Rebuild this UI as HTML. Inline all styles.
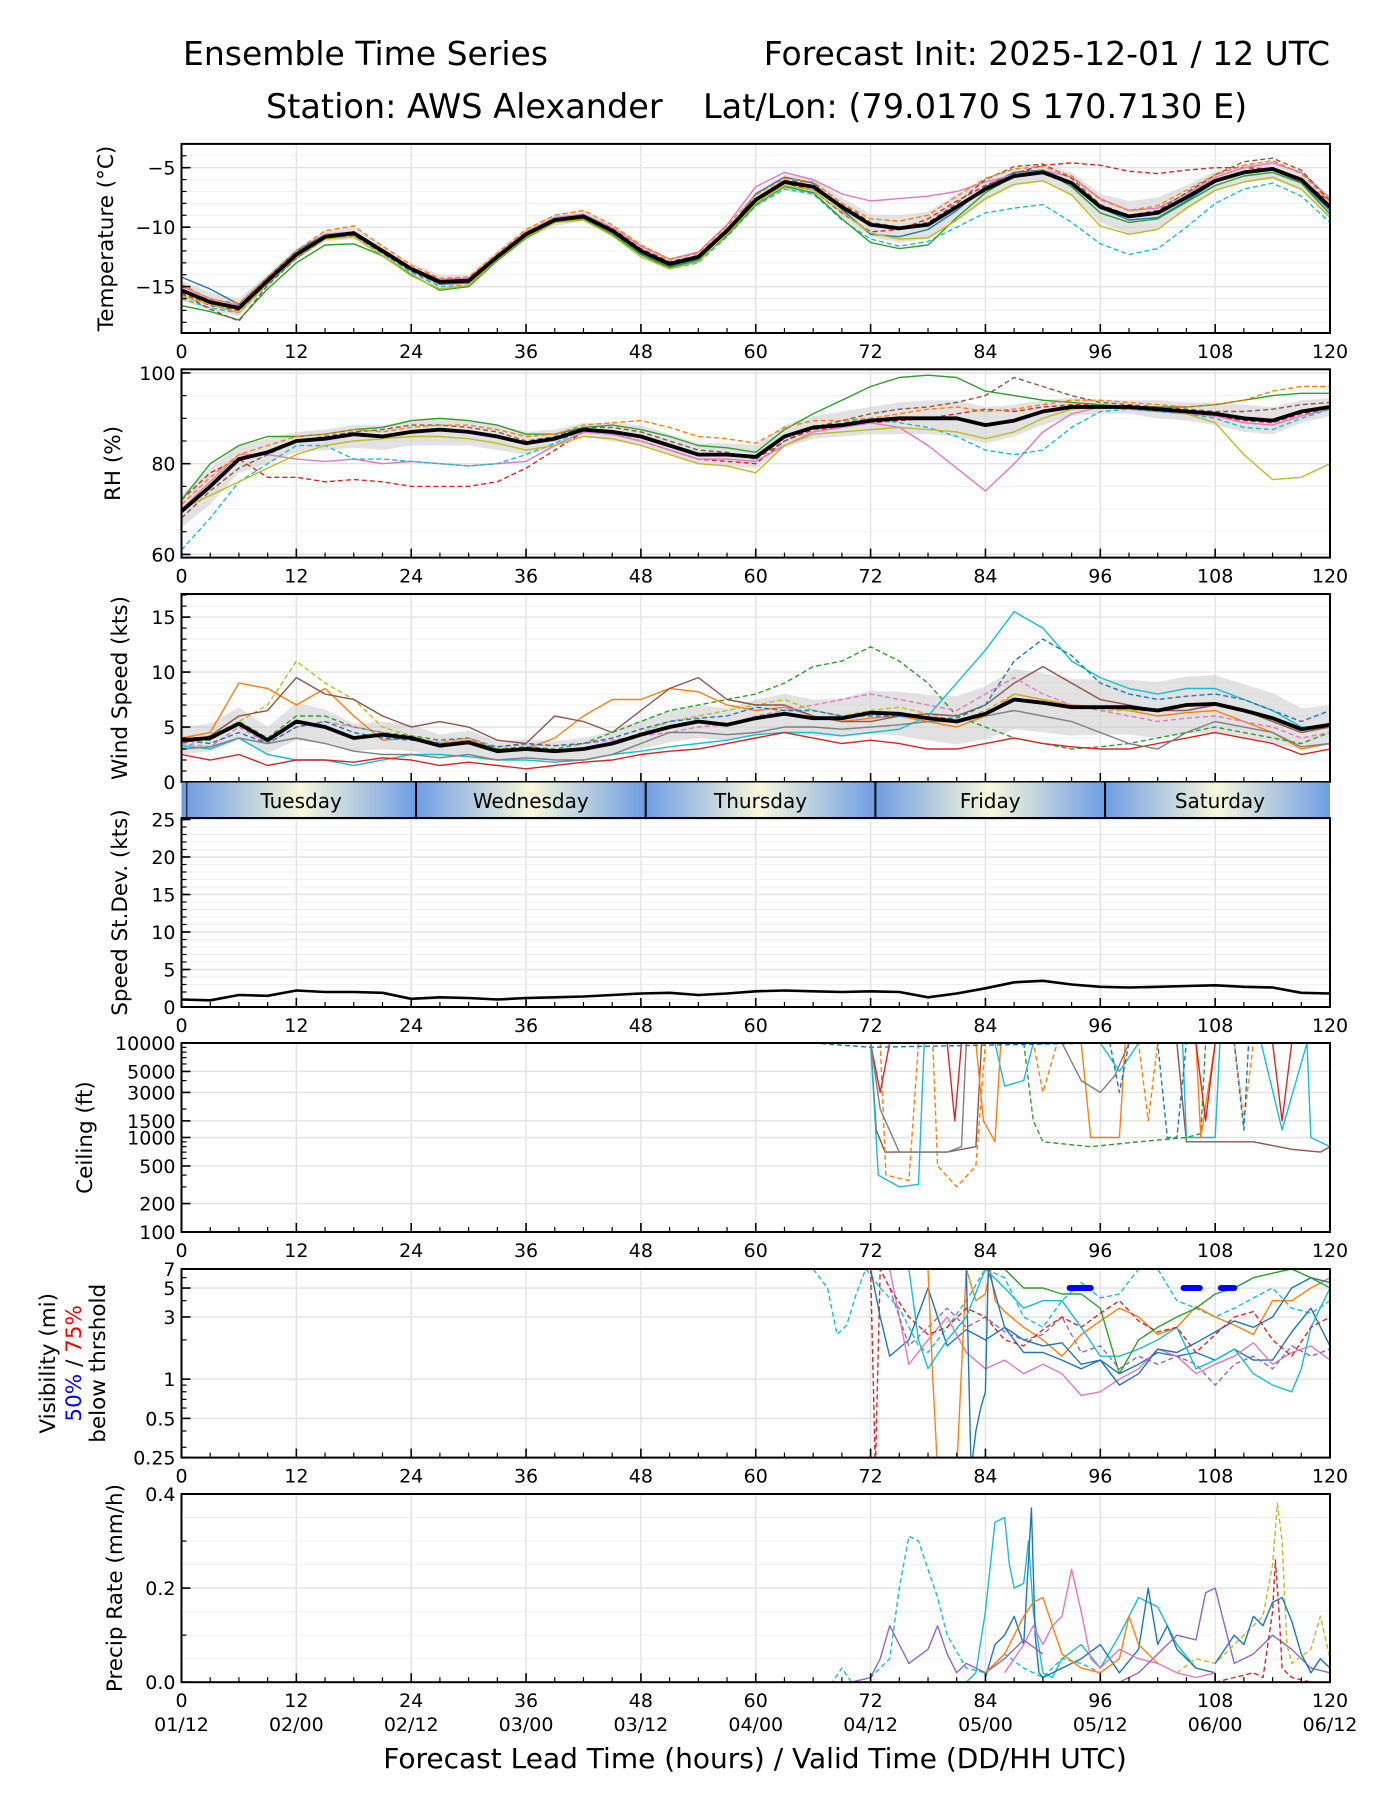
<!DOCTYPE html>
<html><head><meta charset="utf-8">
<style>
html,body{margin:0;padding:0;background:#fff;}
svg{display:block;font-family:"DejaVu Sans","Liberation Sans",sans-serif;}
</style></head>
<body>
<svg id="chart" width="1400" height="1800" viewBox="0 0 1400 1800" xmlns="http://www.w3.org/2000/svg">
<defs>
<linearGradient id="dayGrad" x1="0" x2="1" y1="0" y2="0">
<stop offset="0" stop-color="#6f9de3"/><stop offset="0.5" stop-color="#f8f8dc"/><stop offset="1" stop-color="#6f9de3"/>
</linearGradient>
</defs>
<text x="183" y="65" font-size="33">Ensemble Time Series</text>
<text x="1330" y="65" font-size="33" text-anchor="end">Forecast Init: 2025-12-01 / 12 UTC</text>
<text x="266" y="118" font-size="33.5">Station: AWS Alexander</text>
<text x="703" y="118" font-size="33.5">Lat/Lon: (79.0170 S 170.7130 E)</text>
<text x="755" y="1768" font-size="28" text-anchor="middle">Forecast Lead Time (hours) / Valid Time (DD/HH UTC)</text>
</svg>
<script>
// ---------- data ----------
const xTicks = [0,12,24,36,48,60,72,84,96,108,120];
const dateLabels = ['01/12','02/00','02/12','03/00','03/12','04/00','04/12','05/00','05/12','06/00','06/12'];
const dayNames = ['Tuesday','Wednesday','Thursday','Friday','Saturday'];
const dayStarts = [0.5,24.5,48.5,72.5,96.5];

const tMean = [-15.3,-16.3,-16.8,-14.5,-12.3,-10.8,-10.5,-12,-13.5,-14.6,-14.5,-12.5,-10.6,-9.4,-9.1,-10.3,-12,-13.1,-12.5,-10.3,-7.7,-6.2,-6.6,-8.3,-9.8,-10.1,-9.8,-8.3,-6.8,-5.7,-5.4,-6.3,-8.3,-9.1,-8.8,-7.5,-6.1,-5.4,-5.1,-6,-8.3];
const tLo = [-16.2,-17,-17.5,-15,-12.7,-11.2,-11,-12.6,-14,-15.2,-15.1,-13,-11.1,-9.9,-9.5,-10.8,-12.5,-13.6,-13,-10.9,-8.4,-6.9,-7.4,-9.2,-10.8,-11.3,-11,-9.5,-7.8,-6.5,-6.2,-7.3,-9.6,-10.6,-10.2,-8.6,-7,-6.2,-6,-6.9,-9.3];
const tHi = [-14.5,-15.5,-16,-14,-11.8,-10.3,-10,-11.5,-13,-14,-14,-12,-10.1,-8.9,-8.6,-9.8,-11.4,-12.6,-12,-9.7,-7,-5.6,-5.9,-7.5,-8.9,-9,-8.7,-7.2,-5.9,-5,-4.7,-5.4,-7.2,-7.8,-7.5,-6.5,-5.3,-4.7,-4.4,-5.2,-7.4];
const tM1 = [-14.2,-15.2,-16.5,-14.2,-12,-10.6,-10.4,-12,-13.6,-14.8,-14.7,-12.6,-10.4,-9.2,-9,-10.2,-12.2,-13.3,-12.7,-10.4,-7.2,-5.8,-6.3,-8.5,-10.6,-10.8,-10.2,-8.6,-6.6,-5.4,-5.2,-6.2,-8.4,-9.4,-9.2,-7.8,-6.2,-5.5,-5.2,-6.2,-8.6];
const tM2 = [-15.5,-16.6,-17,-14.6,-12.4,-10.9,-10.6,-12.1,-13.4,-14.5,-14.4,-12.4,-10.5,-9.3,-9,-10.1,-11.8,-12.9,-12.4,-10.2,-7.6,-6.3,-6.9,-8.8,-10.4,-10.2,-9.3,-7.8,-6.5,-5.5,-4.8,-4.6,-4.8,-5.3,-5.5,-5.2,-5,-5,-5.1,-6.2,-7.8];
const tM3 = [-15,-16,-16.6,-14.3,-12.2,-10.6,-10.4,-11.9,-13.4,-14.4,-14.3,-12.3,-10.4,-9.2,-8.9,-10,-11.6,-12.7,-12.1,-9.8,-6.6,-5.4,-6,-7.2,-7.8,-7.6,-7.4,-7,-6.2,-5.6,-5.2,-5.8,-7.6,-8.6,-8.4,-7.2,-5.8,-5,-4.6,-5.4,-7.6];
const tM4 = [-16,-16.8,-17.2,-14.8,-12.6,-11,-10.6,-12.2,-13.8,-15,-14.9,-12.8,-10.8,-9.5,-9.2,-10.5,-12.3,-13.5,-13,-10.8,-8.2,-6.8,-7.2,-9.4,-11,-11.6,-11.2,-10,-8.8,-8.4,-8.1,-9.6,-11.4,-12.3,-11.8,-10,-8,-6.8,-6.3,-7.4,-9.6];
const tM5 = [-16.6,-17.1,-17.8,-15.2,-13,-11.5,-11.4,-12.4,-14,-15.3,-15,-12.8,-10.9,-9.6,-9.3,-10.6,-12.3,-13.4,-12.8,-10.7,-8.1,-6.6,-7.1,-9.3,-11.3,-11.8,-11.5,-9.2,-7.1,-5.7,-5.2,-6.6,-8.8,-9.6,-9.3,-7.9,-6.5,-5.7,-5.4,-6.3,-8.9];
const tM6 = [-15.6,-16.9,-17.9,-14.9,-12.6,-11,-10.7,-12.2,-13.7,-14.8,-14.7,-12.7,-10.7,-9.5,-9.2,-10.4,-12.1,-13.2,-12.6,-10.4,-7.8,-6.1,-6.2,-8,-9.6,-10,-9.6,-8,-6,-4.9,-4.7,-5.9,-8.1,-9,-8.6,-7.1,-5.6,-4.5,-4.2,-5.2,-7.8];
const tM7 = [-15.8,-16.5,-17.2,-14.7,-12.5,-11,-10.8,-12.4,-14.1,-15.2,-14.9,-12.7,-10.8,-9.6,-9.4,-10.7,-12.5,-13.5,-12.9,-10.6,-8,-6.5,-6.9,-8.7,-10.5,-11,-10.9,-9.4,-7.6,-6.4,-6.1,-7.3,-9.9,-10.6,-10.2,-8.4,-6.9,-6.2,-5.8,-6.8,-9.2];
const tM8 = [-14.8,-16.1,-16.4,-14.2,-12,-10.3,-9.9,-11.6,-13.2,-14.3,-14.2,-12.2,-10.2,-9,-8.6,-9.8,-11.5,-12.7,-12.2,-9.9,-7.3,-5.9,-6.2,-8,-9.3,-9.5,-9,-7.4,-5.9,-5.1,-4.9,-5.7,-7.7,-8.6,-8.2,-6.9,-5.6,-4.8,-4.4,-5.5,-7.9];
const tMembers = [tM1,tM2,tM3,tM4,tM5,tM6,tM7,tM8];

const rhMean = [69.5,75,81,82.5,85,85.5,86.5,86,87,87.5,87,86,84.5,85.5,87.5,87,86,84,82,82,81.5,86,88,88.5,89.5,90,90,90,88.5,89.5,91.5,92.5,92.5,92.5,92,91.5,91,90,89.5,91.5,92.5];
const rhLo = [66,71,78,80,82.5,83,83.5,83,84,84,84,83,82,83.5,86,85,84,82,80,79.5,79,83.5,85.5,86,86.5,86.5,86.5,86,84.5,86,88.5,90.5,91,91,90,89.5,88.5,87,86.5,89,90.5];
const rhHi = [73,79,84,85.5,87,87.5,88.5,88.5,89.5,90,89.5,88.5,87,87.5,89,89,88.5,86.5,84.5,84.5,84,88.5,90.5,91.5,92.5,93.5,94,94,92.5,93,94,94.5,94,94,94,93.5,93.5,93,92.5,94,94.5];
const rhM1 = [72,78,81,77,77,76,76.5,76,75,75,75,76,79,83,87,86.5,85,83,81,80.5,80,85,87.5,88,89,89.5,90,91,92,91.5,92.5,93,93,92.5,92,91.5,90.5,89.5,89,91,92];
const rhM2 = [70,76,82,82,81,80.5,81,80,80.5,80,79.5,80,80.5,84,87,86.5,85,83,81,81,80.5,84,87,88,89,88,84,79,74,80,87,91,92.5,92,91.5,91,90.5,89,88.5,90.5,92];
const rhM3 = [61,68,76,80,84,84,81,81,80.5,80,79.5,80,82,84.5,87.5,87,86,84,82,82,81,86,88,89,90,89,88,86,83,82,83,88,91.5,92,91.5,91,90,88,87.5,90,92];
const rhM4 = [72,80,84,86,86,86.5,87.5,88,89.5,90,89.5,88.5,86.5,86.5,88,88.5,87.5,86,84,83.5,82.5,87.5,91,94,97,99,99.5,99,96,95,94,93.5,93,92.5,92.5,92.5,93,94,95,95.5,95.5];
const rhM5 = [68,74,79,82,85,86,87,87.5,88.5,88.5,88,87,85,86,88,88,87,85,83,82.5,81,85,88,89.5,91,92,92.5,93.5,95,99,97,95,93.5,93,92.5,92,91.5,91.5,92,93,93.5];
const rhM6 = [70,73,76,79,82,84,85,85.5,86,86,85.5,84.5,83,84,86,85.5,84,82,80,79.5,78,84,86.5,87,87.5,88,87.5,87,85.5,87,90,92,92.5,92.5,92,91,89,82,76.5,77,80];
const rhM7 = [71,77,82,84,86,86.5,87.5,87,88,88.5,88.5,87.5,86,86.5,88.5,89,89.5,88,86,85.5,84.5,88,89.5,89.5,90,91,92,92.5,91.5,92,93,94,94,93.5,93,92.5,93,94,96,97,97];
const rhMembers = [rhM1,rhM2,rhM3,rhM4,rhM5,rhM6,rhM7];

const wMean = [3.8,4,5.3,3.8,5.5,5,4,4.3,4,3.3,3.6,2.8,3,2.8,3,3.5,4.3,5,5.5,5.2,5.8,6.2,5.8,5.8,6.3,6.2,5.8,5.5,6.2,7.5,7.2,6.8,6.8,6.8,6.5,7,7.1,6.5,5.8,4.8,5.2];
const wLo = [2.5,2.8,3.8,2.6,3.8,3.5,2.8,3,2.8,2.3,2.5,2,2.1,2,2.1,2.5,3,3.6,4,3.8,4.2,4.5,4.2,4.1,4.4,4.2,3.8,3.4,3.9,4.8,4.5,4.2,4.3,4.3,4,4.4,4.5,4.1,3.5,3,3.4];
const wHi = [5,5.3,6.8,5,7.2,6.6,5.3,5.5,5.2,4.3,4.7,3.7,3.9,3.7,4,4.6,5.6,6.5,7,6.7,7.5,8,7.5,7.6,8.3,8.2,7.9,7.8,8.7,10.3,9.9,9.4,9.3,9.3,9.1,9.6,9.7,8.9,8.1,6.7,7];
const wM1 = [4,4.5,9,8.5,7,8.5,6,3.8,4,3.5,3.8,3,3,4,6,7.5,7.5,8.5,8.2,7,6.5,6.8,6,5.5,5.8,6,5.5,5,6,8,7.5,7,6.8,6.5,6,6.3,6.5,5.5,4.5,3,3.5];
const wM2 = [3,4.2,5.5,7,11,9,7.5,5,4.2,3.5,3.7,2.8,3,2.8,3,3.5,4.5,5.5,6,6.5,7,7.5,6.5,6,6.5,6.8,6.2,5.5,6.5,8,7.5,7,6.5,6.5,6.5,7,7,6.5,5.5,4.5,5];
const wM3 = [3.5,4.2,6,6.5,9.5,8,7.5,6,5,5.5,5,3.8,3.5,6,5.5,4.5,6.5,8.5,9.5,7.5,7,7,6,5.5,5.5,6,6.2,6,7,9,10.5,9,7.5,7,6.5,6.5,7,6.5,5.5,4.5,5];
const wM4 = [3.8,3.8,5.5,4,6,6,5,4.5,4.2,3.8,4,3,3.2,3,3.5,4.5,5.5,6.5,7,7.5,8,9,10.5,11,12.3,11,9,6,5,4,3.5,3,3.2,3.5,4,4.5,5,4.5,4,3.5,4.5];
const wM5 = [3.3,3,4,2.5,2,2,1.5,2,2.5,2.5,2.3,2,2,1.8,2,2.5,2.8,3.2,3.5,3.8,4.3,4.5,4.5,4.2,4.5,4.8,6,9,12,15.5,14,11,9.5,8.5,8,8.5,8.5,7.5,6.5,5,5];
const wM6 = [3.5,3.2,5,3.5,5,5.5,5,4.5,4,3.6,4,3.2,3.4,3.3,3.5,3.8,4.2,4.5,5,5.2,6,6.5,7,7.5,8,7.5,7,6.5,8,9.5,8,7,6.5,6,5.5,5.8,6,5.5,5,4,4.5];
const wM7 = [2.5,2,2.5,1.5,2,2,1.8,2.2,2,1.5,1.8,1.5,1.2,1.5,1.8,2,2.5,2.8,3,3.5,4,4.5,4,3.5,3.8,3.5,3,3,3.5,4,3.5,3.2,3,3,3.5,4,4.5,4,3.5,2.5,3];
const wM8 = [3.8,3.5,4.5,3.5,5,5.5,4.5,4,3.8,3.5,3.5,3.2,3.5,3.3,3.5,4,4.8,5.5,5.8,6,6.8,6.5,6.5,6,6,6,5.8,5.8,7,11,13,11.5,9,8,7.5,7.8,8,7.5,6.5,5.5,6.5];
const wM9 = [3,3.2,4,3.5,4,3.5,2.8,2.5,2.5,2.2,2.5,2,2.2,2,2,2.5,3.5,4.5,4.5,4.3,4.5,5,5,4.8,5,5.2,5.5,5.5,6,6.5,6,5.5,4.5,3.5,3,4.5,5.5,5,4.5,3.2,3.5];
const wMembers = [wM1,wM2,wM3,wM4,wM5,wM6,wM7,wM8,wM9];

const sdMean = [1,0.9,1.6,1.5,2.2,2,2,1.9,1.1,1.3,1.2,1,1.2,1.3,1.4,1.6,1.8,1.9,1.6,1.8,2.1,2.2,2.1,2,2.1,2,1.3,1.8,2.5,3.3,3.5,3,2.7,2.6,2.7,2.8,2.9,2.7,2.6,1.9,1.8];

const ceilH1 = [72,72.6,73.5,80,83,83.6,96,104,105,112,116,119,120];
const ceilV1 = [10000,1200,700,700,800,10000,10000,10000,900,900,750,700,800];
const ceilH2 = [88,89,90,95,100,105,106.5,107,110,112];
const ceilV2 = [10000,1500,900,800,900,1000,1100,10000,10000,10000];
const ceilH3 = [72,72.8,75,77,77.6,85,86,88,89,96,98,100,104.6,105,108,108.5,112.8,115,117.6,118,120];
const ceilV3 = [10000,400,300,320,10000,10000,3500,4000,10000,10000,5000,10000,10000,1000,1000,10000,10000,1200,10000,1000,800];
const ceilH4 = [73,73.6,76,77,78.5,79,81,83,84,89,90,91.5,100,101,102,110,111,112];
const ceilV4 = [10000,400,350,10000,10000,500,300,500,10000,10000,3000,10000,10000,1500,10000,10000,1500,10000];
const ceilH5 = [83,83.8,85,85.6,94,95,98,98.6,106,106.5,108];
const ceilV5 = [10000,1500,900,10000,10000,1000,1000,10000,10000,1000,10000];
const ceilH6 = [72,73,74,80,80.8,81.5,106,107,108,114,115,116];
const ceilV6 = [10000,3000,10000,10000,1500,10000,10000,1500,10000,10000,1500,10000];
const ceilH7 = [66,72,96,97,98,99,102,103,104,105,110,111,111.5];
const ceilV7 = [10000,9000,10000,10000,3000,10000,10000,1000,1000,10000,10000,1200,10000];
const ceilH8 = [72,73,75,80,81.5,82,92,94,96,97.5,99];
const ceilV8 = [10000,2000,700,700,800,10000,10000,4000,3000,4500,10000];
const ceilMembers = [[ceilH1,ceilV1],[ceilH2,ceilV2],[ceilH3,ceilV3],[ceilH4,ceilV4],[ceilH5,ceilV5],[ceilH6,ceilV6],[ceilH7,ceilV7],[ceilH8,ceilV8]];

const visH1 = [66,67.5,68.5,69.5,70.5,71.5,73,75,77,78,80,82,84,86,88,90,92,94,96,98,100,102,104,106,108,110,112,114,116,118,120];
const visV1 = [7,5,2.2,2.6,4.5,7,5,3.5,1.8,1.6,2.5,4,7,6,3,2.5,4,5.5,4.2,4.5,7,7,4,3.5,3,3.5,4.2,5,3.5,3.2,4];
const visH2 = [72,73,74,76,78,80,82,84,86,88,90,92,94,96,98,100,102,104,106,108,110,112,114,116,118,120];
const visV2 = [7,3,1.5,2,5,1.8,2.4,2,2.5,1.6,1.6,1.4,1.2,1.4,1.1,1.3,1.6,1.5,1.6,1.4,1.7,1.4,1.4,2.3,3.5,1.8];
const visH3 = [74,75,76,78,80,82,84,86,88,90,92,94,96,98,100,102,104,106,108,110,112,114,116,118,120];
const visV3 = [7,3,1.3,2,3,1.6,1.2,1.4,1.1,1.3,1.1,0.75,0.8,1,1.2,1.7,1.5,1.1,1.3,1.5,1.9,1.3,1.6,1.8,1.4];
const visH4 = [74,75,76,78,80,82,84,86,88,90,92,94,96,98,100,102,104,106,108,110,112,114,116,118,120];
const visV4 = [5,3,1.8,2.5,3.5,2.5,3,2.3,2,2.2,3,1.6,1.8,1.2,1.5,1.3,1.5,1.3,0.9,1.3,1.5,1.2,1.8,1.5,1.7];
const visH5 = [78,78.5,79,80,81,82,83,84,84.5,85,86,88,90,92,94,96,98,100,102,104,106,108,110,112,114,116,118,120];
const visV5 = [7,1,0.2,0.2,0.2,7,4,4.5,7,4,3.3,2.5,2,1.5,2.2,2.8,3.5,3,2.2,2.5,3.6,3,2.6,2.2,4,4,5,6];
const visH6 = [82,82.5,83,83.5,84,84.3,86,88,90,92,94,96,98,100,102,104,106,108,110,112,114,116,118,120];
const visV6 = [7,0.2,0.4,0.6,0.8,7,2.5,2,1.8,1.9,1.3,1.4,0.9,1.1,1.7,1.6,1.9,2.3,2.8,2.5,3,5,6,5.5];
const visH7 = [76,77,78,80,82,84,86,88,90,92,94,96,98,100,102,104,106,108,110,112,114,116,117,118,120];
const visV7 = [7,2,1.2,2,3,7,5,3.5,4,4,2.5,1.5,1.5,1.7,2,2.5,1.2,1.4,1.7,1.1,0.9,0.8,1.2,2.5,5];
const visH8 = [86,88,90,92,94,96,98,100,102,104,106,108,110,112,114,116,118,120];
const visV8 = [7,5,5,4.5,4.5,3.5,1.1,2,2.5,3,3.5,4.5,5,6,6.5,7,6,5];
const visH9 = [72,72.5,73,74,76,78,80,82,84,86,88,90,92,94,96,98,100,102,104,106,108,110,112,114,116,118,120];
const visV9 = [7,0.2,7,5,3,2.2,2.5,3.5,3,2,1.8,2.4,3,2.5,3.2,4,2.8,2.3,2.5,1.6,2.2,3,3.3,2,1.5,2.5,3];
const visMembers = [[visH1,visV1],[visH2,visV2],[visH3,visV3],[visH4,visV4],[visH5,visV5],[visH6,visV6],[visH7,visV7],[visH8,visV8],[visH9,visV9]];
const vis50H = [[92.8,95],[104.7,106.4],[108.6,110]];
const vis50V = [5,5,5];

const prH1 = [66,68,69,70,72,74,75,76,77,78,79,80,82,84,86,88,90,92,94,96];
const prV1 = [0,0,0.03,0,0.01,0.05,0.2,0.31,0.3,0.24,0.18,0.1,0.03,0.02,0.06,0.03,0.01,0.05,0.04,0.02];
const prH2 = [82,83,84,85,86,86.5,87,88,88.5,89,90,91,92,94,96,98,100,102,104,106];
const prV2 = [0,0.02,0.15,0.34,0.35,0.25,0.2,0.21,0.3,0.15,0.02,0.01,0.05,0.08,0.03,0.1,0.18,0.16,0.08,0.03];
const prH3 = [84,85,86,87,88,88.8,89.2,89.6,90,92,94,96,98,100,101,102,103,104,106,108];
const prV3 = [0.01,0.08,0.1,0.14,0.08,0.37,0.1,0.02,0.01,0.03,0.05,0.08,0.02,0.07,0.2,0.08,0.12,0.07,0.03,0.02];
const prH4 = [86,88,89,90,91,92,93,94,95,96,98,100,102,104,106,108];
const prV4 = [0.02,0.08,0.12,0.08,0.12,0.14,0.24,0.15,0.05,0.03,0.07,0.05,0.04,0.02,0.01,0.02];
const prH5 = [70,72,73,74,75,76,78,79,80,81,82,84,86,88,90];
const prV5 = [0,0.01,0.05,0.12,0.08,0.04,0.07,0.12,0.06,0.02,0.04,0.02,0.05,0.09,0.06];
const prH6 = [98,100,102,104,106,106.5,107,108,109,110,112,114,116,118,120];
const prV6 = [0,0.02,0.06,0.1,0.09,0.14,0.19,0.2,0.12,0.04,0.06,0.1,0.07,0.03,0.02];
const prH7 = [104,106,108,110,112,113,114,114.5,115,115.5,116,118,119,120];
const prV7 = [0.02,0.05,0.04,0.08,0.12,0.14,0.25,0.38,0.3,0.08,0.04,0.07,0.14,0.05];
const prH8 = [108,110,112,113,114,114.3,114.7,115,116,118,120];
const prV8 = [0,0.01,0.02,0.01,0.15,0.26,0.14,0.03,0.01,0,0];
const prH9 = [84,86,87,88,89,90,91,92,94,96,98,99,100,102];
const prV9 = [0.02,0.06,0.1,0.14,0.17,0.18,0.12,0.06,0.03,0.02,0.05,0.14,0.08,0.04];
const prH10 = [108,110,111,112,113,114,115,116,117,118,119,120];
const prV10 = [0.04,0.1,0.08,0.14,0.12,0.17,0.18,0.13,0.06,0.02,0.05,0.03];
const prMembers = [[prH1,prV1],[prH2,prV2],[prH3,prV3],[prH4,prV4],[prH5,prV5],[prH6,prV6],[prH7,prV7],[prH8,prV8],[prH9,prV9],[prH10,prV10]];

// ---------- rendering ----------
const NS = 'http://www.w3.org/2000/svg';
const svg = document.getElementById('chart');
const X0 = 181.5, X1 = 1330;
const xs = h => X0 + (h/120)*(X1-X0);
const COLORS = ['#1f77b4','#ff7f0e','#2ca02c','#d62728','#9467bd','#8c564b','#e377c2','#7f7f7f','#bcbd22','#17becf'];
const TICKFS = 19, LABFS = 21.5;
function mk(tag, attrs, parent){ const e=document.createElementNS(NS,tag); for(const k in attrs) e.setAttribute(k,attrs[k]); (parent||svg).appendChild(e); return e; }

function makePanel(id, top, bot, lo, hi, log){
  const ys = log ? (v => bot - (Math.log(Math.max(v,lo*0.5))-Math.log(lo))/(Math.log(hi)-Math.log(lo))*(bot-top))
                 : (v => bot - (v-lo)/(hi-lo)*(bot-top));
  const g = mk('g',{});
  
  
  const cp = mk('clipPath',{id:'clip-'+id}, g);
  mk('rect',{x:X0,y:top,width:X1-X0,height:bot-top},cp);
  const plot = mk('g',{'clip-path':'url(#clip-'+id+')'}, g);
  return {id,top,bot,lo,hi,ys,g,plot};
}
function grid(p, major, minor){
  (minor||[]).forEach(v=>{ const y=p.ys(v); mk('line',{x1:X0,x2:X1,y1:y,y2:y,stroke:'#f0f0f0','stroke-width':1},p.plot); });
  xTicks.forEach(h=>{ mk('line',{x1:xs(h),x2:xs(h),y1:p.top,y2:p.bot,stroke:'#e2e2e2','stroke-width':1.4},p.plot); });
  major.forEach(v=>{ const y=p.ys(v); mk('line',{x1:X0,x2:X1,y1:y,y2:y,stroke:'#e2e2e2','stroke-width':1.4},p.plot); });
}
function axes(p, major, labels, minor, showX){
  mk('rect',{x:X0,y:p.top,width:X1-X0,height:p.bot-p.top,fill:'none',stroke:'#000','stroke-width':2},p.g);
  for(let h=0;h<=120;h+=3){ const big=h%12===0; mk('line',{x1:xs(h),x2:xs(h),y1:p.bot,y2:p.bot-(big?9:5),stroke:'#000','stroke-width':big?1.6:1.2},p.g); }
  (minor||[]).forEach(v=>{ const y=p.ys(v); mk('line',{x1:X0,x2:X0+5,y1:y,y2:y,stroke:'#000','stroke-width':1.2},p.g); });
  major.forEach((v,i)=>{ const y=p.ys(v);
    mk('line',{x1:X0,x2:X0+9,y1:y,y2:y,stroke:'#000','stroke-width':1.6},p.g);
    const t=mk('text',{x:X0-6,y:y+7,'font-size':TICKFS,'text-anchor':'end'},p.g); t.textContent=labels[i];
    
    
  });
  if(showX) xTicks.forEach(h=>{ const t=mk('text',{x:xs(h),y:p.bot+25,'font-size':TICKFS,'text-anchor':'middle'},p.g); t.textContent=String(h);
    
    
  });
}
function ylabel(p, text, x){
  const cy=(p.top+p.bot)/2;
  const t=mk('text',{x:x,y:cy,'font-size':LABFS,'text-anchor':'middle',transform:'rotate(-90 '+x+' '+cy+')'},p.g); t.textContent=text;
  
  
}
function pathD(p, hrs, vals){ return hrs.map((h,i)=>(i?'L':'M')+xs(h).toFixed(1)+' '+p.ys(vals[i]).toFixed(1)).join(' '); }
const H41 = Array.from({length:41},(_,i)=>i*3);
function line(p, hrs, vals, color, w, dash, name){
  const e=mk('path',{d:pathD(p,hrs,vals),fill:'none',stroke:color,'stroke-width':w,'stroke-linejoin':'round'},p.plot);
  if(dash) e.setAttribute('stroke-dasharray',dash);
  
  
  return e;
}
function band(p, lo, hi, name){
  const d = pathD(p,H41,hi) + ' ' + H41.slice().reverse().map((h,i)=>'L'+xs(h).toFixed(1)+' '+p.ys(lo[40-i]).toFixed(1)).join(' ') + ' Z';
  const e=mk('path',{d:d,fill:'#cfcfcf','fill-opacity':0.6,stroke:'none'},p.plot);
  
  
}
function range(a,b,s){ const r=[]; for(let v=a; v<=b+1e-9; v+=s) r.push(+v.toFixed(4)); return r; }

// Temperature
const pT = makePanel('temperature',143.9,333,-18.9,-3,false);
grid(pT,[-5,-10,-15],range(-18,-3,1));
band(pT,tLo,tHi,'temperature-spread');
tMembers.forEach((m,i)=>line(pT,H41,m,COLORS[(i*3)%10],1.4,i%2?'5,3':null,'temperature-member'));
line(pT,H41,tMean,'#000',3.8,null,'temperature-mean');
axes(pT,[-5,-10,-15],['−5','−10','−15'],range(-18,-3,1),true);
ylabel(pT,'Temperature (°C)',113);

// RH
const pR = makePanel('rh',369.3,557.6,59.3,100.8,false);
grid(pR,[60,80,100],range(60,100,5));
band(pR,rhLo,rhHi,'rh-spread');
rhMembers.forEach((m,i)=>line(pR,H41,m,COLORS[(i*3+3)%10],1.4,i%2?null:'5,3','rh-member'));
line(pR,H41,rhMean,'#000',3.8,null,'rh-mean');
axes(pR,[60,80,100],['60','80','100'],range(60,100,5),true);
ylabel(pR,'RH (%)',120);

// Wind
const pW = makePanel('wind',594,782,0,17.1,false);
grid(pW,[0,5,10,15],range(0,17,1));
band(pW,wLo,wHi,'wind-spread');
wMembers.forEach((m,i)=>line(pW,H41,m,COLORS[(i*7+1)%10],1.4,i%2?'5,3':null,'wind-member'));
line(pW,H41,wMean,'#000',3.8,null,'wind-mean');
axes(pW,[0,5,10,15],['0','5','10','15'],range(0,17,1),false);
ylabel(pW,'Wind Speed (kts)',127);

// Day band
dayStarts.forEach((s,i)=>{
  const x1=xs(s);
  const r=mk('rect',{x:x1,y:782.5,width:Math.min(xs(s+24),X1)-x1,height:35,fill:'url(#dayGrad)'});
  
  
  mk('line',{x1:x1,x2:x1,y1:782.5,y2:817.5,stroke:'#000','stroke-width':2});
  const t=mk('text',{x:xs(s+12),y:808,'font-size':20,'text-anchor':'middle'}); t.textContent=dayNames[i];
  
  
});
{ const r=mk('rect',{x:X0,y:782.5,width:xs(0.5)-X0,height:35,fill:'#6f9de3'});   }

// Std dev
const pS = makePanel('speed-stdev',818,1007,0,25.2,false);
grid(pS,[0,5,10,15,20,25],range(0,25,1));
line(pS,H41,sdMean,'#000',2.6,null,'speed-stdev-line');
axes(pS,[0,5,10,15,20,25],['0','5','10','15','20','25'],range(0,25,1),true);
ylabel(pS,'Speed St.Dev. (kts)',127);

// Ceiling
const ceilTicks=[10000,5000,3000,1500,1000,500,200,100];
const pC = makePanel('ceiling',1043,1232,100,10000,true);
grid(pC,ceilTicks,[]);
ceilMembers.forEach((m,i)=>line(pC,m[0],m[1],COLORS[[5,2,9,1,1,3,0,7][i]],1.4,[1,3,6].includes(i)?'5,3':null,'ceiling-member'));
axes(pC,ceilTicks,ceilTicks.map(String),[200,300,400,600,700,800,900,2000,4000,6000,7000,8000,9000],true);
ylabel(pC,'Ceiling (ft)',92);

// Visibility
const visTicks=[7,5,3,1,0.5,0.25];
const pV = makePanel('visibility',1269,1457.6,0.25,7,true);
grid(pV,visTicks,[]);
visMembers.forEach((m,i)=>line(pV,m[0],m[1],COLORS[[9,0,6,4,1,0,9,2,3][i]],1.4,[0,3,8].includes(i)?'5,3':null,'visibility-member'));
vis50H.forEach((seg,i)=>{ const e=mk('line',{x1:xs(seg[0]),x2:xs(seg[1]),y1:pV.ys(vis50V[i]),y2:pV.ys(vis50V[i]),stroke:'#0000ff','stroke-width':6,'stroke-linecap':'round'},pV.plot);
    });
axes(pV,visTicks,['7','5','3','1','0.5','0.25'],[0.3,0.4,0.6,0.7,0.8,0.9,2,4,6],true);
{
  const cy=(pV.top+pV.bot)/2;
  const t=mk('text',{x:55,y:cy,'font-size':LABFS,'text-anchor':'middle',transform:'rotate(-90 55 '+cy+')'},pV.g); t.textContent='Visibility (mi)';
   
  const t2=mk('text',{x:81,y:cy,'font-size':LABFS,'text-anchor':'middle',transform:'rotate(-90 81 '+cy+')'},pV.g);
   
  const a=mk('tspan',{fill:'#0000ff'},t2); a.textContent='50%';
  const b=mk('tspan',{fill:'#000'},t2); b.textContent=' / ';
  const c=mk('tspan',{fill:'#ff0000'},t2); c.textContent='75%';
  const t3=mk('text',{x:105,y:cy,'font-size':LABFS,'text-anchor':'middle',transform:'rotate(-90 105 '+cy+')'},pV.g); t3.textContent='below thrshold';
   
}

// Precip
const pP = makePanel('precip',1494,1682.2,0,0.4,false);
grid(pP,[0,0.2,0.4],[0.05,0.1,0.15,0.25,0.3,0.35]);
prMembers.forEach((m,i)=>line(pP,m[0],m[1],COLORS[[9,9,0,6,4,4,8,3,1,0][i]],1.4,[0,6,7].includes(i)?'5,3':null,'precip-member'));
axes(pP,[0,0.2,0.4],['0.0','0.2','0.4'],[0.1,0.3],true);
ylabel(pP,'Precip Rate (mm/h)',122);
dateLabels.forEach((d,i)=>{ const t=mk('text',{x:xs(xTicks[i]),y:1731,'font-size':TICKFS,'text-anchor':'middle'}); t.textContent=d;
    });
</script>
</body></html>
